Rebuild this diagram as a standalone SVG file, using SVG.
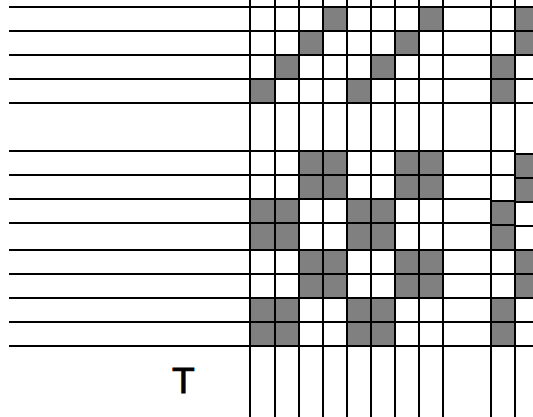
<svg xmlns="http://www.w3.org/2000/svg" width="533" height="417" viewBox="0 0 533 417">
<style>
.bg{fill:#ffffff}
.cell{fill:#808080;stroke:none}
.ln{stroke:#000000;stroke-width:2;fill:none}
.lbl{font-family:"DejaVu Sans",sans-serif;font-size:34px;fill:#000000;stroke:#000000;stroke-width:0.9;text-anchor:middle}
</style>
<rect class="bg" x="0" y="0" width="533" height="417"/>
<g id="cells">
<rect class="cell" x="323" y="7" width="24" height="24"/>
<rect class="cell" x="419" y="7" width="24" height="24"/>
<rect class="cell" x="515" y="7" width="18" height="24"/>
<rect class="cell" x="299" y="31" width="24" height="24"/>
<rect class="cell" x="395" y="31" width="24" height="24"/>
<rect class="cell" x="515" y="31" width="18" height="24"/>
<rect class="cell" x="275" y="55" width="24" height="24"/>
<rect class="cell" x="371" y="55" width="24" height="24"/>
<rect class="cell" x="491" y="55" width="24" height="24"/>
<rect class="cell" x="250" y="79" width="25" height="24"/>
<rect class="cell" x="347" y="79" width="24" height="24"/>
<rect class="cell" x="491" y="79" width="24" height="24"/>

<rect class="cell" x="299" y="151" width="48" height="48"/>
<rect class="cell" x="395" y="151" width="48" height="48"/>
<rect class="cell" x="515" y="154" width="18" height="48"/>
<rect class="cell" x="250" y="199" width="49" height="51"/>
<rect class="cell" x="347" y="199" width="48" height="51"/>
<rect class="cell" x="491" y="201" width="24" height="49"/>
<rect class="cell" x="299" y="250" width="48" height="48"/>
<rect class="cell" x="395" y="250" width="48" height="48"/>
<rect class="cell" x="515" y="250" width="18" height="48"/>
<rect class="cell" x="250" y="298" width="49" height="48"/>
<rect class="cell" x="347" y="298" width="48" height="48"/>
<rect class="cell" x="491" y="298" width="24" height="48"/>
</g>
<g id="rows">
<line class="ln" x1="9" y1="7" x2="533" y2="7"/>
<line class="ln" x1="9" y1="31" x2="533" y2="31"/>
<line class="ln" x1="9" y1="55" x2="533" y2="55"/>
<line class="ln" x1="9" y1="79" x2="533" y2="79"/>
<line class="ln" x1="9" y1="103" x2="533" y2="103"/>
<line class="ln" x1="9" y1="151" x2="515" y2="151"/>
<line class="ln" x1="9" y1="175" x2="515" y2="175"/>
<line class="ln" x1="9" y1="199" x2="491" y2="199"/>
<line class="ln" x1="9" y1="223" x2="491" y2="223"/>
<line class="ln" x1="9" y1="250" x2="533" y2="250"/>
<line class="ln" x1="9" y1="274" x2="533" y2="274"/>
<line class="ln" x1="9" y1="298" x2="533" y2="298"/>
<line class="ln" x1="9" y1="322" x2="533" y2="322"/>
<line class="ln" x1="9" y1="346" x2="533" y2="346"/>
<line class="ln" x1="515" y1="154" x2="533" y2="154"/>
<line class="ln" x1="515" y1="178" x2="533" y2="178"/>
<line class="ln" x1="515" y1="202" x2="533" y2="202"/>
<line class="ln" x1="515" y1="226" x2="533" y2="226"/>
<line class="ln" x1="491" y1="201" x2="515" y2="201"/>
<line class="ln" x1="491" y1="225" x2="515" y2="225"/>
</g>
<g id="columns">
<line class="ln" x1="250" y1="0" x2="250" y2="417"/>
<line class="ln" x1="275" y1="0" x2="275" y2="417"/>
<line class="ln" x1="299" y1="0" x2="299" y2="417"/>
<line class="ln" x1="323" y1="0" x2="323" y2="417"/>
<line class="ln" x1="347" y1="0" x2="347" y2="417"/>
<line class="ln" x1="371" y1="0" x2="371" y2="417"/>
<line class="ln" x1="395" y1="0" x2="395" y2="417"/>
<line class="ln" x1="419" y1="0" x2="419" y2="417"/>
<line class="ln" x1="443" y1="0" x2="443" y2="417"/>
<line class="ln" x1="491" y1="0" x2="491" y2="417"/>
<line class="ln" x1="515" y1="0" x2="515" y2="417"/>
</g>
<text id="label-T" class="lbl" x="183.5" y="393">T</text>
</svg>
